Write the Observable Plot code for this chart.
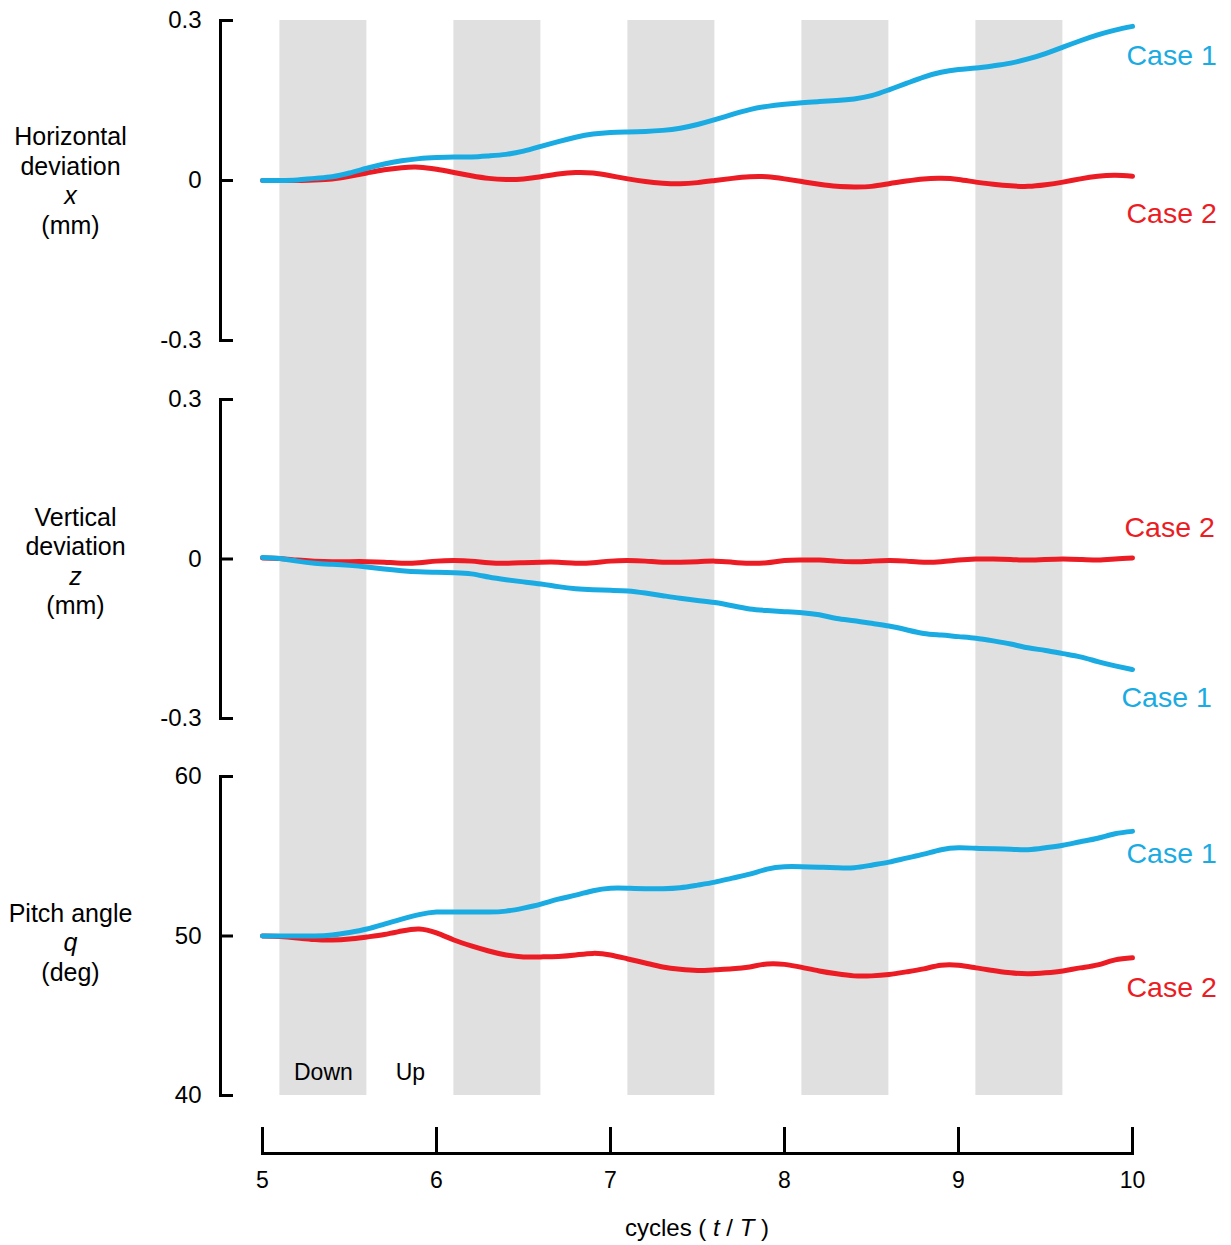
<!DOCTYPE html>
<html><head><meta charset="utf-8">
<script src="https://cdn.jsdelivr.net/npm/d3@7"></script>
<script src="https://cdn.jsdelivr.net/npm/@observablehq/plot@0.6"></script>
<style>
body{margin:0;background:#fff;}
#chart{position:relative;width:1231px;height:1245px;font-family:"Liberation Sans",Arial,sans-serif;}
#chart > svg, #chart > div{position:absolute;left:0;}
</style></head><body><div id="chart"></div>
<script>
// ---- data ----
const cycles = [5.0,5.1,5.2,5.3,5.4,5.5,5.6,5.7,5.8,5.9,6.0,6.1,6.2,6.3,6.4,6.5,6.6,6.7,6.8,6.9,7.0,7.1,7.2,7.3,7.4,7.5,7.6,7.7,7.8,7.9,8.0,8.1,8.2,8.3,8.4,8.5,8.6,8.7,8.8,8.9,9.0,9.1,9.2,9.3,9.4,9.5,9.6,9.7,9.8,9.9,10.0];
const seriesNames = ["Case 1", "Case 2"];
const horizCase1 = [0,0,0.001,0.004,0.007,0.014,0.023,0.031,0.037,0.041, 0.043,0.044,0.044,0.046,0.049,0.055,0.064,0.073,0.081,0.087, 0.090,0.091,0.092,0.094,0.098,0.105,0.114,0.124,0.133,0.139, 0.143,0.146,0.148,0.150,0.153,0.159,0.170,0.182,0.194,0.203, 0.208,0.211,0.215,0.220,0.228,0.238,0.250,0.262,0.273,0.282, 0.289];
const horizCase2 = [0,0,0,0.001,0.003,0.008,0.014,0.020,0.024,0.025, 0.021,0.015,0.009,0.004,0.002,0.003,0.007,0.012,0.015,0.014, 0.009,0.003,-0.002,-0.005,-0.006,-0.004,0.000,0.004,0.007,0.007, 0.003,-0.002,-0.007,-0.011,-0.012,-0.011,-0.006,-0.001,0.003,0.004, 0.002,-0.003,-0.007,-0.010,-0.011,-0.008,-0.003,0.003,0.008,0.010, 0.008];
const vertCase1 = [0.003,0.001,-0.004,-0.008,-0.010,-0.012,-0.015,-0.019,-0.022,-0.024, -0.025,-0.026,-0.028,-0.034,-0.039,-0.043,-0.047,-0.052,-0.056,-0.058, -0.059,-0.060,-0.064,-0.069,-0.074,-0.078,-0.082,-0.088,-0.094,-0.097, -0.099,-0.101,-0.105,-0.112,-0.116,-0.121,-0.126,-0.133,-0.140,-0.143, -0.146,-0.149,-0.154,-0.160,-0.167,-0.172,-0.178,-0.184,-0.193,-0.201, -0.208];
const vertCase2 = [0.002,0.001,-0.002,-0.004,-0.005,-0.005,-0.005,-0.006,-0.008,-0.007, -0.004,-0.003,-0.004,-0.007,-0.008,-0.007,-0.006,-0.006,-0.008,-0.007, -0.004,-0.003,-0.004,-0.006,-0.006,-0.005,-0.004,-0.006,-0.008,-0.007, -0.003,-0.002,-0.002,-0.004,-0.005,-0.004,-0.003,-0.004,-0.006,-0.005, -0.002,0.000,0.000,-0.001,-0.002,-0.001,0.000,-0.001,-0.002,0.000, 0.002];
const pitchCase1 = [50.0,50.0,50.0,50.0,50.06,50.22,50.44,50.75,51.06,51.34, 51.5,51.5,51.5,51.5,51.56,51.75,52.0,52.31,52.56,52.84, 53.0,53.0,52.97,52.97,53.03,53.19,53.38,53.63,53.88,54.19, 54.34,54.34,54.31,54.28,54.28,54.44,54.63,54.88,55.13,55.41, 55.53,55.5,55.47,55.44,55.41,55.53,55.69,55.91,56.13,56.41, 56.56];
const pitchCase2 = [50.0,49.97,49.88,49.78,49.75,49.81,49.94,50.09,50.31,50.44, 50.19,49.75,49.38,49.06,48.81,48.69,48.69,48.72,48.81,48.91, 48.81,48.56,48.31,48.06,47.91,47.84,47.88,47.94,48.06,48.25, 48.22,48.03,47.81,47.63,47.5,47.5,47.59,47.75,47.94,48.16, 48.16,48.0,47.84,47.69,47.63,47.69,47.81,48.0,48.19,48.5, 48.63];
const downstrokeStart = [5.1, 6.1, 7.1, 8.1, 9.1];
const downstrokeEnd = [5.6, 6.6, 7.6, 8.6, 9.6];
const phaseNames = ["Down", "Up"];
const phaseCenters = [5.35, 5.85];
const xTicks = [5, 6, 7, 8, 9, 10];
const devTicks = [-0.3, 0, 0.3];
const pitchTicks = [40, 50, 60];
const horizLabel = ["Horizontal", "deviation", "x", "(mm)"];
const vertLabel = ["Vertical", "deviation", "z", "(mm)"];
const pitchLabel = ["Pitch angle", "q", "(deg)"];
const italicWords = ["x", "z", "q"];

// ---- rendering ----
const FONT = '"Liberation Sans", Arial, sans-serif';
const BLUE = "#1aabe2", RED = "#ec1c24", BAND = "#e0e0e0";
const W = 1231;
const root = document.getElementById("chart");

function rows(c1, c2) {
  const out = [];
  cycles.forEach((t, i) => out.push({t, v: c2[i], series: seriesNames[1]}));
  cycles.forEach((t, i) => out.push({t, v: c1[i], series: seriesNames[0]}));
  return out;
}

const bands = downstrokeStart.map((s, i) => ({start: s, end: downstrokeEnd[i]}));
const bg = Plot.plot({
  width: W, height: 1095, marginTop: 20, marginBottom: 0, marginLeft: 262, marginRight: 99,
  x: {domain: [5, 10], axis: null},
  style: {background: "transparent"},
  marks: [Plot.rect(bands, {x1: "start", x2: "end", fill: BAND})]
});
bg.style.top = "0px";
root.appendChild(bg);

function panel({top, height, marginTop, marginBottom, yDomain, yTicks, data, label, labelDx, labelCenter, caseLabels, extra = []}) {
  const n = label.length;
  const svg = Plot.plot({
    width: W, height, marginTop, marginBottom, marginLeft: 220, marginRight: 0,
    x: {domain: [5, 10], range: [262, 1132], axis: null},
    y: {domain: yDomain, axis: null},
    color: {domain: seriesNames, range: [BLUE, RED]},
    style: {background: "transparent", fontFamily: FONT, overflow: "visible", color: "#000"},
    marks: [
      Plot.frame({anchor: "left", stroke: "#000", strokeWidth: 3, strokeLinecap: "square"}),
      Plot.ruleY(yTicks, {y: d => d, stroke: "#000", strokeWidth: 3, insetRight: W - 220 - 13}),
      Plot.text(yTicks, {y: d => d, text: d => String(d), frameAnchor: "left", textAnchor: "end", lineAnchor: "middle", dx: -19, fontSize: 24, fill: "#000"}),
      ...label.map((w, i) => Plot.text([w], {
        text: d => d, frameAnchor: "left", textAnchor: "middle", lineAnchor: "middle", dx: labelDx,
        dy: labelCenter + (i - (n - 1) / 2) * 29.5,
        fontSize: 25, fontStyle: italicWords.includes(w) ? "italic" : "normal", fill: "#000"
      })),
      Plot.line(data, {x: "t", y: "v", z: "series", stroke: "series", strokeWidth: 5, curve: "natural"}),
      ...caseLabels.map(c => Plot.text(data.filter(d => d.series === c.series),
        Plot.selectLast({x: "t", y: "v", text: "series", fill: "series", textAnchor: "start", lineAnchor: "middle", dx: c.dx, dy: c.dy, fontSize: 28.5}))),
      ...extra
    ]
  });
  svg.style.top = top + "px";
  root.appendChild(svg);
}

panel({top: 0, height: 370, marginTop: 20, marginBottom: 30, yDomain: [-0.3, 0.3], yTicks: devTicks,
  data: rows(horizCase1, horizCase2), label: horizLabel, labelDx: -150, labelCenter: 1,
  caseLabels: [{series: "Case 1", dx: -6, dy: 30}, {series: "Case 2", dx: -6, dy: 38}]});

panel({top: 370, height: 378, marginTop: 29, marginBottom: 30, yDomain: [-0.3, 0.3], yTicks: devTicks,
  data: rows(vertCase1, vertCase2), label: vertLabel, labelDx: -145, labelCenter: 3,
  caseLabels: [{series: "Case 2", dx: -8, dy: -30}, {series: "Case 1", dx: -11, dy: 28}]});

panel({top: 748, height: 362, marginTop: 28, marginBottom: 15, yDomain: [40, 60], yTicks: pitchTicks,
  data: rows(pitchCase1, pitchCase2), label: pitchLabel, labelDx: -150, labelCenter: 7,
  caseLabels: [{series: "Case 1", dx: -6, dy: 23}, {series: "Case 2", dx: -6, dy: 30}],
  extra: [Plot.text(phaseNames.map((p, i) => ({p, t: phaseCenters[i]})), {x: "t", text: "p", frameAnchor: "bottom", lineAnchor: "middle", dy: -23, fontSize: 23, fill: "#000"})]});

const axis = Plot.plot({
  width: W, height: 135, marginTop: 17, marginBottom: 92, marginLeft: 262, marginRight: 99,
  x: {domain: [5, 10], axis: null},
  style: {background: "transparent", fontFamily: FONT, overflow: "visible"},
  marks: [
    Plot.frame({anchor: "bottom", stroke: "#000", strokeWidth: 3, strokeLinecap: "square"}),
    Plot.tickX(xTicks, {x: d => d, stroke: "#000", strokeWidth: 3}),
    Plot.text(xTicks, {x: d => d, text: d => String(d), frameAnchor: "bottom", lineAnchor: "middle", dy: 27, fontSize: 23, fill: "#000"})
  ]
});
axis.style.top = "1110px";
root.appendChild(axis);

const title = document.createElement("div");
title.style.cssText = "top:1214px;left:262px;width:870px;text-align:center;font-size:24px;line-height:28px;color:#000;";
title.innerHTML = 'cycles ( <i>t</i> / <i>T</i> )';
root.appendChild(title);
</script>
</body></html>
